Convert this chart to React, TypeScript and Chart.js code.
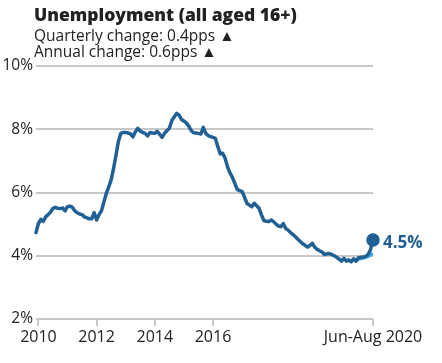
import React, { useEffect, useRef } from "react";
import { Chart, registerables } from "chart.js";

Chart.register(...registerables);

const TITLE = "Unemployment (all aged 16+)";
const SUBTITLES = ["Quarterly change: 0.4pps \u25B2", "Annual change: 0.6pps \u25B2"];

// Monthly rolling 3-month unemployment rate (%), from early 2010 to Jun-Aug 2020
const rate = [
  4.73, 5.02, 5.15, 5.09, 5.23, 5.3, 5.38, 5.5, 5.53, 5.5,
  5.49, 5.51, 5.42, 5.55, 5.57, 5.53, 5.42, 5.36, 5.32, 5.3,
  5.23, 5.2, 5.17, 5.17, 5.36, 5.13, 5.3, 5.42, 5.7, 5.97,
  6.18, 6.4, 6.76, 7.18, 7.62, 7.87, 7.9, 7.9, 7.88, 7.85,
  7.76, 7.92, 8.03, 7.94, 7.9, 7.87, 7.79, 7.9, 7.88, 7.87,
  7.93, 7.84, 7.74, 7.87, 7.95, 8.03, 8.27, 8.39, 8.5, 8.45,
  8.31, 8.26, 8.2, 8.1, 7.96, 7.89, 7.88, 7.87, 7.85, 8.06,
  7.87, 7.8, 7.77, 7.74, 7.71, 7.45, 7.22, 7.24, 7.08, 6.81,
  6.62, 6.48, 6.29, 6.1, 6.06, 6.03, 5.85, 5.66, 5.6, 5.55,
  5.66, 5.58, 5.5, 5.29, 5.11, 5.09, 5.08, 5.13, 5.08, 5.0,
  4.94, 4.92, 5.02, 4.86, 4.81, 4.73, 4.67, 4.6, 4.52, 4.45,
  4.38, 4.33, 4.27, 4.33, 4.39, 4.27, 4.2, 4.16, 4.12, 4.04,
  4.06, 4.07, 4.04, 4.0, 3.95, 3.89, 3.83, 3.92, 3.83, 3.87,
  3.81, 3.9, 3.83, 3.94, 3.95, 3.96, 3.98, 4.04, 4.2, 4.5,
];

// Short light-blue segment at the end of the series
const altMonths = [133, 135, 137, 138.4];
const altRate = [3.9, 3.93, 3.98, 4.05];

const xTickMonths = [1, 25, 49, 73, 139];
const xTickLabels = ["2010", "2012", "2014", "2016", "Jun-Aug 2020"];
const yTicks = [2, 4, 6, 8, 10];

const DARK = "#206095";
const LIGHT = "#3aaee0";
const GRID = "#c8c8c8";
const TEXT = "#222222";

export default function App() {
  const ref = useRef<HTMLCanvasElement | null>(null);

  useEffect(() => {
    document.body.style.margin = "0";
    const canvas = ref.current;
    if (!canvas) return;

    const textPlugin = {
      id: "texts",
      afterDraw(chart: any) {
        const ctx = chart.ctx;
        const left = chart.chartArea.left - 2;
        ctx.save();
        ctx.fillStyle = TEXT;
        ctx.textAlign = "left";
        ctx.textBaseline = "alphabetic";
        ctx.font = '800 17.5px "Open Sans"';
        ctx.fillText(TITLE, left, 21);
        ctx.font = '15.5px "Open Sans"';
        ctx.fillText(SUBTITLES[0], left, 41);
        ctx.fillText(SUBTITLES[1], left, 57);

        const meta = chart.getDatasetMeta(0);
        const last = meta.data[meta.data.length - 1];
        if (last) {
          ctx.fillStyle = DARK;
          ctx.font = 'bold 17px "Open Sans"';
          ctx.textBaseline = "middle";
          ctx.fillText(rate[rate.length - 1].toFixed(1) + "%", last.x + 10, last.y + 3);
        }
        ctx.restore();
      },
    };

    const lastIdx = rate.length - 1;
    const chart = new Chart(canvas, {
      type: "line",
      data: {
        datasets: [
          {
            data: rate.map((v, i) => ({ x: i, y: v })),
            borderColor: DARK,
            backgroundColor: DARK,
            borderWidth: 3.5,
            borderJoinStyle: "round",
            borderCapStyle: "round",
            pointRadius: (c: any) => (c.dataIndex === lastIdx ? 5 : 0),
            pointHoverRadius: 0,
            tension: 0,
            clip: false,
          },
          {
            data: altMonths.map((m, i) => ({ x: m, y: altRate[i] })),
            borderColor: LIGHT,
            backgroundColor: LIGHT,
            borderWidth: 3.5,
            borderCapStyle: "round",
            pointRadius: 0,
            tension: 0,
            clip: false,
          },
        ],
      },
      options: {
        responsive: false,
        animation: false,
        devicePixelRatio: 1,
        layout: { padding: { top: 66, right: 69, bottom: 0, left: 0 } },
        plugins: {
          legend: { display: false },
          tooltip: { enabled: false },
          title: { display: false },
        },
        scales: {
          x: {
            type: "linear",
            min: 0,
            max: rate.length - 1,
            afterBuildTicks: (s: any) => {
              s.ticks = xTickMonths.map((v) => ({ value: v }));
            },
            afterFit: (s: any) => {
              s.height = 44;
            },
            ticks: {
              autoSkip: false,
              maxRotation: 0,
              padding: 2,
              color: TEXT,
              font: { family: '"Open Sans"', size: 16 },
              callback: (v: any) => {
                const i = xTickMonths.indexOf(Number(v));
                return i >= 0 ? xTickLabels[i] : "";
              },
            },
            grid: {
              drawOnChartArea: false,
              drawTicks: true,
              tickLength: 7,
              color: GRID,
              lineWidth: 2,
            },
            border: { display: false },
          },
          y: {
            min: 2,
            max: 10,
            afterBuildTicks: (s: any) => {
              s.ticks = yTicks.map((v) => ({ value: v }));
            },
            afterFit: (s: any) => {
              s.width = 36;
            },
            ticks: {
              padding: 3,
              color: TEXT,
              font: { family: '"Open Sans"', size: 15.5 },
              callback: (v: any) => v + "%",
            },
            grid: {
              drawTicks: false,
              color: GRID,
              lineWidth: 2,
            },
            border: { display: false },
          },
        },
      },
      plugins: [textPlugin],
    } as any);

    return () => chart.destroy();
  }, []);

  return <canvas ref={ref} width={442} height={363} style={{ display: "block" }} />;
}
